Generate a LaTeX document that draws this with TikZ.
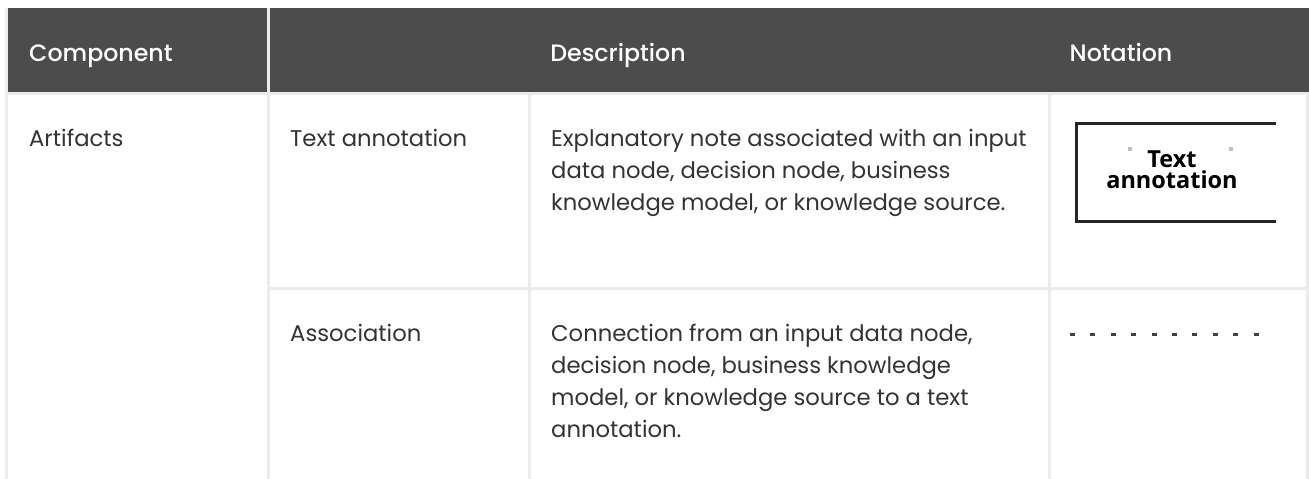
\documentclass[tikz,border=0pt]{standalone}
\usepackage{fontspec}
\setmainfont{Poppins}
\newfontfamily\headfont{Poppins Medium}
\newfontfamily\notefont{Open Sans}
\definecolor{hdr}{HTML}{4C4C4C}
\definecolor{rulec}{HTML}{EBEBEB}
\definecolor{bodyc}{HTML}{333333}
\tikzset{
  x=1pt,y=-1pt,
  band/.style={fill=hdr,draw=none},
  sep/.style={fill=rulec,draw=none},
  head/.style={text=white,font=\headfont\fontsize{23.7}{26}\selectfont,inner sep=0pt,anchor=base},
  cell/.style={text=bodyc,font=\fontsize{22.7}{32}\selectfont,inner sep=0pt,anchor=base west},
  notebox/.style={draw=black!85,line width=3pt},
  assocdots/.style={draw=black!75,line width=3pt},
  speck/.style={fill=black!25,draw=none},
  notetext/.style={font=\notefont\fontsize{23.5}{21}\selectfont\bfseries,text=black,inner sep=0pt,align=center}
}
\begin{document}
\begin{tikzpicture}
\useasboundingbox[fill=white] (0,0) rectangle (1309,479);
\fill[band] (8,8) rectangle (267,92);
\fill[band] (270,8) rectangle (1309,92);
\fill[sep] (5,8) rectangle (8,479);
\fill[sep] (267,8) rectangle (270,479);
\fill[sep] (8,92) rectangle (1309,95);
\fill[sep] (528,95) rectangle (531,479);
\fill[sep] (1048,95) rectangle (1051,479);
\fill[sep] (1306,95) rectangle (1309,479);
\fill[sep] (270,287) rectangle (1306,290);
\node[head,anchor=base west] (h1) at (29,61.5) {Component};
\node[head] (h2) at (618,61.5) {Description};
\node[head] (h3) at (1121,61.5) {Notation};
\node[cell] (a) at (29,146) {Artifacts};
\node[cell] (b) at (290,146) {Text annotation};
\node[cell] (c) at (290,341) {Association};
\node[cell] (d1) at (551,146) {Explanatory note associated with an input};
\node[cell] (d2) at (551,178) {data node, decision node, business};
\node[cell] (d3) at (551,210) {knowledge model, or knowledge source.};
\node[cell] (e1) at (551,341) {Connection from an input data node,};
\node[cell] (e2) at (551,373) {decision node, business knowledge};
\node[cell] (e3) at (551,405) {model, or knowledge source to a text};
\node[cell] (e4) at (551,437) {annotation.};
\draw[notebox] (1275.5,123) -- (1076,123) -- (1076,221) -- (1275.5,221);
\node[notetext] (n) at (1172,169.5) {Text\\annotation};
\fill[speck] (1128,147) rectangle (1132,151);
\fill[speck] (1229,147) rectangle (1233,151);
\draw[assocdots,dash pattern=on 5pt off 15.4pt] (1070,334) -- (1260,334);
\end{tikzpicture}
\end{document}
